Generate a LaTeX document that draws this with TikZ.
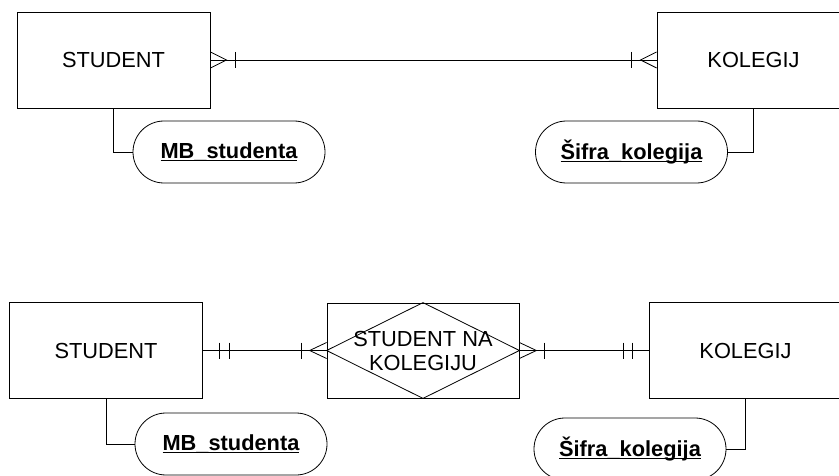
\documentclass[tikz,border=0pt]{standalone}
\usepackage{fontspec}
\setmainfont{Liberation Sans}
\usepackage{tikz}
\usetikzlibrary{shapes.misc, calc}

\newcommand{\keyattr}[1]{\setbox0\hbox{\bfseries #1}\rlap{\rule[-2.6pt]{\wd0}{1.2pt}}\box0}

\tikzset{
  entity/.style={draw, rectangle, minimum width=193pt, minimum height=96pt, inner sep=0pt},
  attrib/.style={draw, rounded rectangle, minimum width=192pt, minimum height=62pt, inner sep=0pt},
  relbox/.style={draw, rectangle, minimum width=192pt, minimum height=95pt, inner sep=0pt, align=center}
}

\begin{document}
\begin{tikzpicture}[x=1pt, y=-1pt, line width=0.8pt, font=\fontsize{21.8}{24}\selectfont]
        \useasboundingbox (0,0) rectangle (839,476);
        % upper diagram
        \node[entity] (stA) at (113.5,60) {STUDENT};
        \node[entity] (koA) at (753.5,60) {KOLEGIJ};
        \node[attrib] (mbA) at (229,152) {\keyattr{MB\_studenta}};
        \node[attrib] (sfA) at (631.5,152) {\keyattr{Šifra\_kolegija}};
        \draw (stA.east) -- (koA.west);
        \draw ($(stA.east)+(0,-8)$) -- ($(stA.east)+(16,0)$) -- ($(stA.east)+(0,8)$);
        \draw ($(stA.east)+(25,-8)$) -- ($(stA.east)+(25,8)$);
        \draw ($(koA.west)+(0,-8)$) -- ($(koA.west)+(-16,0)$) -- ($(koA.west)+(0,8)$);
        \draw ($(koA.west)+(-25,-8)$) -- ($(koA.west)+(-25,8)$);
        \draw (stA.south) |- (mbA.west);
        \draw (koA.south) |- (sfA.east);
        % lower diagram
        \node[entity] (stB) at (106,350.5) {STUDENT};
        \node[relbox] (rel) at (423,350.5) {STUDENT NA\\KOLEGIJU};
        \draw (rel.north) -- (rel.east) -- (rel.south) -- (rel.west) -- cycle;
        \node[entity] (koB) at (745.5,350.5) {KOLEGIJ};
        \node[attrib] (mbB) at (231,444) {\keyattr{MB\_studenta}};
        \node[attrib] (sfB) at (630,449) {\keyattr{Šifra\_kolegija}};
        \draw (stB.east) -- (rel.west);
        \draw (rel.east) -- (koB.west);
        \draw ($(stB.east)+(16,-8)$) -- ($(stB.east)+(16,8)$);
        \draw ($(stB.east)+(26,-8)$) -- ($(stB.east)+(26,8)$);
        \draw ($(rel.west)+(0,-8)$) -- ($(rel.west)+(-17,0)$) -- ($(rel.west)+(0,8)$);
        \draw ($(rel.west)+(-25,-8)$) -- ($(rel.west)+(-25,8)$);
        \draw ($(rel.east)+(0,-8)$) -- ($(rel.east)+(17,0)$) -- ($(rel.east)+(0,8)$);
        \draw ($(rel.east)+(25,-8)$) -- ($(rel.east)+(25,8)$);
        \draw ($(koB.west)+(-16,-8)$) -- ($(koB.west)+(-16,8)$);
        \draw ($(koB.west)+(-25,-8)$) -- ($(koB.west)+(-25,8)$);
        \draw (stB.south) |- (mbB.west);
        \draw (koB.south) |- (sfB.east);
\end{tikzpicture}
\end{document}
